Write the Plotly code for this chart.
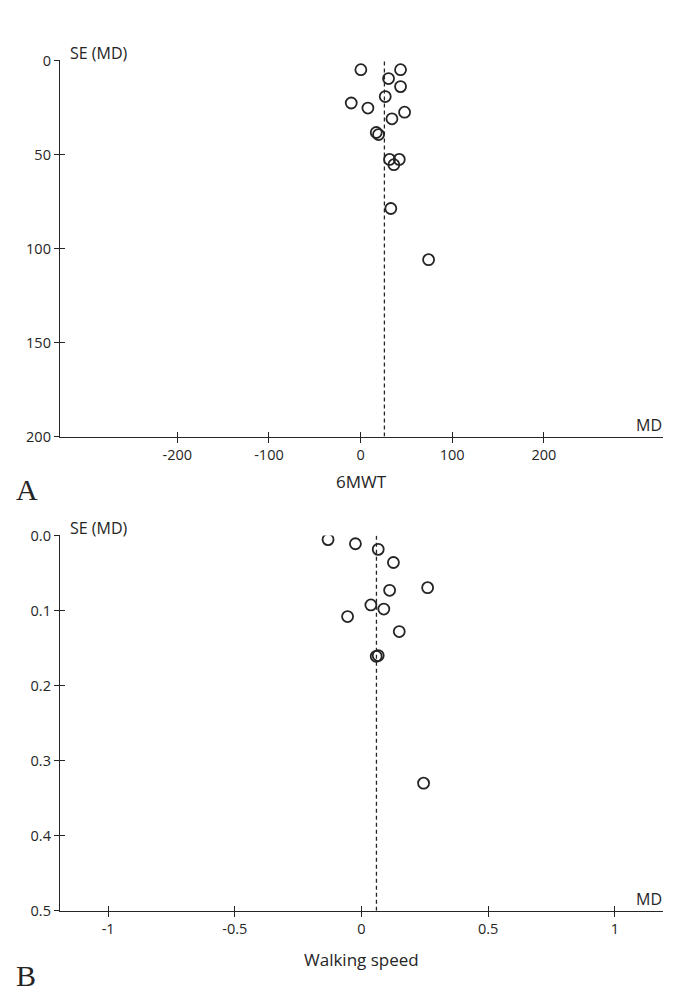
"""Funnel plots (SE vs MD) for 6MWT and walking speed."""

import plotly.graph_objects as go

# Panel A: 6MWT
six_mwt_md = [0.3, 43.6, 30.5, 43.6, 26.9, -10.2, 8.0, 48.0, 34.2, 17.1, 19.6, 31.6, 42.2, 36.3, 33.0, 74.2]
six_mwt_se = [4.9, 4.9, 9.6, 13.9, 19.2, 22.6, 25.3, 27.5, 31.0, 38.3, 39.4, 52.6, 52.6, 55.4, 78.7, 105.9]
six_mwt_pooled = 26.0
six_mwt_xticks = [-200, -100, 0, 100, 200]
six_mwt_xlabels = ["-200", "-100", "0", "100", "200"]
six_mwt_yticks = [0, 50, 100, 150, 200]
six_mwt_ylabels = ["0", "50", "100", "150", "200"]

# Panel B: walking speed
walk_md = [-0.132, -0.024, 0.066, 0.126, 0.261, 0.111, 0.037, 0.088, -0.055, 0.149, 0.058, 0.066, 0.245]
walk_se = [0.0055, 0.011, 0.0185, 0.036, 0.0695, 0.073, 0.0925, 0.098, 0.108, 0.128, 0.161, 0.160, 0.33]
walk_pooled = 0.059
walk_xticks = [-1, -0.5, 0, 0.5, 1]
walk_xlabels = ["-1", "-0.5", "0", "0.5", "1"]
walk_yticks = [0.0, 0.1, 0.2, 0.3, 0.4, 0.5]
walk_ylabels = ["0.0", "0.1", "0.2", "0.3", "0.4", "0.5"]

W, H = 677, 1001
INK = "#252525"
FONT = "Open Sans"


def px_x(p):
    return p / W


def px_y(p):
    return 1 - p / H


X_DOM = [px_x(52), px_x(655)]
TOP_DOM = [px_y(426.7), px_y(43.3)]
BOT_DOM = [px_y(910), px_y(527.5)]

fig = go.Figure()


def add_panel(n, md, se, pooled, xr, yr, xticks, xlabels, yticks, ylabels, ydom):
    xa, ya = f"x{n}" if n > 1 else "x", f"y{n}" if n > 1 else "y"
    fig.add_trace(go.Scatter(
        x=[pooled, pooled], y=[yr[1], yr[0]], mode="lines",
        line=dict(color=INK, width=1.3, dash="4px,3px"),
        xaxis=xa, yaxis=ya, showlegend=False, hoverinfo="skip",
    ))
    fig.add_trace(go.Scatter(
        x=md, y=se, mode="markers",
        marker=dict(symbol="circle-open", size=11, color=INK, line=dict(width=1.8, color=INK)),
        xaxis=xa, yaxis=ya, showlegend=False,
    ))
    common = dict(showgrid=False, zeroline=False, ticklen=5, tickwidth=1.2,
                  tickcolor=INK, tickfont=dict(family=FONT, size=14.5, color=INK))
    fig.layout[f"xaxis{n if n > 1 else ''}"] = dict(
        domain=X_DOM, range=xr, anchor=ya, tickvals=xticks, ticktext=xlabels,
        ticks="outside", showline=True, linecolor=INK, linewidth=1.3, **common,
    )
    fig.layout[f"yaxis{n if n > 1 else ''}"] = dict(
        domain=ydom, range=[yr[1], yr[0]], anchor=xa, tickvals=yticks,
        ticktext=ylabels, ticks="outside", showline=True, linecolor=INK,
        linewidth=1.3, **common,
    )
    # overlay axes so the tick marks cross the axis lines
    ox, oy = n + 2, n + 2
    fig.layout[f"xaxis{ox}"] = dict(
        domain=X_DOM, range=xr, anchor=ya, overlaying=xa, tickvals=xticks,
        ticks="inside", showticklabels=False, showline=False, **common,
    )
    fig.layout[f"yaxis{oy}"] = dict(
        domain=ydom, range=[yr[1], yr[0]], anchor=xa, overlaying=ya,
        tickvals=yticks, ticks="inside", showticklabels=False, showline=False,
        **common,
    )
    fig.add_trace(go.Scatter(x=[], y=[], xaxis=f"x{ox}", yaxis=ya, showlegend=False))
    fig.add_trace(go.Scatter(x=[], y=[], xaxis=xa, yaxis=f"y{oy}", showlegend=False))


add_panel(1, six_mwt_md, six_mwt_se, six_mwt_pooled, [-328, 330], [0, 200],
          six_mwt_xticks, six_mwt_xlabels, six_mwt_yticks, six_mwt_ylabels, TOP_DOM)
add_panel(2, walk_md, walk_se, walk_pooled, [-1.19, 1.19], [0, 0.5],
          walk_xticks, walk_xlabels, walk_yticks, walk_ylabels, BOT_DOM)


def label(text, x, y, xanchor="center", size=15, family=FONT):
    fig.add_annotation(
        text=text, xref="paper", yref="paper", x=px_x(x), y=px_y(y),
        xanchor=xanchor, yanchor="middle", showarrow=False,
        font=dict(family=family, size=size, color=INK),
    )


panels = [
    (43.3, 426.7, "6MWT", 46, "A", 54),
    (527.5, 910, "Walking speed", 50, "B", 66),
]
for ax_top, ax_bot, title, title_gap, letter, letter_gap in panels:
    label("SE (MD)", 60, ax_top - 8, xanchor="left", size=16)
    label("MD", 656, ax_bot - 12, xanchor="right", size=16)
    label(title, 353, ax_bot + title_gap, size=17)
    label(letter, 6, ax_bot + letter_gap, xanchor="left", size=30, family="Liberation Serif")

fig.update_layout(
    width=W, height=H, margin=dict(l=0, r=0, t=0, b=0),
    paper_bgcolor="white", plot_bgcolor="white",
)

fig.write_html("out.html")
